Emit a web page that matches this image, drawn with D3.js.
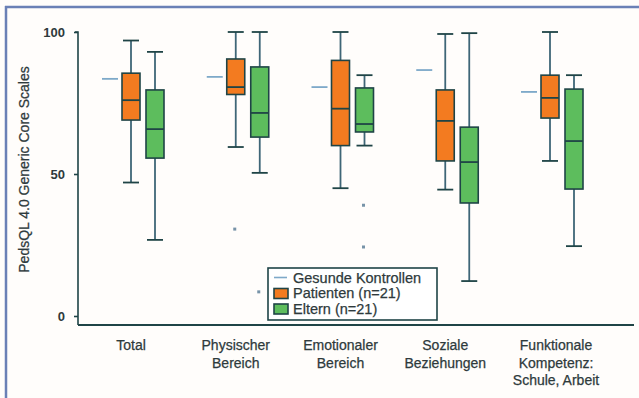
<!DOCTYPE html>
<html>
<head>
<meta charset="utf-8">
<script src="https://cdn.jsdelivr.net/npm/d3@7"></script>
<style>
  html, body { margin: 0; padding: 0; background: #ffffff; }
  svg { display: block; }
</style>
</head>
<body>
<script>
// categories along the x axis (one label per line)
const categories = [
    ["Total"],
    ["Physischer", "Bereich"],
    ["Emotionaler", "Bereich"],
    ["Soziale", "Beziehungen"],
    ["Funktionale", "Kompetenz:", "Schule, Arbeit"]
];

// box stats: [whiskerLow, q1, median, q3, whiskerHigh]
const patienten = [
    [47, 69, 76, 85.5, 97],
    [59.5, 78, 80.6, 90.5, 100],
    [45, 60, 73, 90, 100],
    [44.5, 54.6, 68.7, 79.6, 99.3],
    [54.6, 69.7, 76.8, 84.8, 100]
];
const eltern = [
    [26.8, 55.6, 65.8, 79.6, 93],
    [50.4, 63, 71.5, 87.7, 100],
    [60, 64.8, 67.6, 80.3, 84.8],
    [12.3, 39.8, 54.2, 66.5, 99.6],
    [24.6, 44.7, 61.6, 79.9, 84.8]
];
const outPatienten = [[], [30.6], [], [], []];
const outEltern = [[], [8.5], [39, 24.3], [], []];

// healthy control means
const kontrollen = [83.5, 84.2, 80.6, 86.6, 78.9];

const yTicks = [0, 50, 100];

const W = 639, H = 398;
const colors = {
    orange: "#f37b20",
    green: "#5dbd5d",
    outline: "#1f4446",
    whisker: "#3f6677",
    control: "#7ea9c9",
    text: "#2e3a3c",
    frame: "#6a80b6"
};

const svg = d3.select("body").append("svg")
    .attr("width", W)
    .attr("height", H)
    .style("font-family", "Liberation Sans, Arial, sans-serif");

svg.append("rect").attr("width", W).attr("height", H).attr("fill", "#fffdfb");

// frame: left and top
svg.append("line").attr("x1", 6).attr("x2", 6).attr("y1", 6).attr("y2", H)
    .attr("stroke", colors.frame).attr("stroke-width", 2.5);
svg.append("line").attr("x1", 5).attr("x2", W).attr("y1", 7).attr("y2", 7)
    .attr("stroke", colors.frame).attr("stroke-width", 2.5);

const y = d3.scaleLinear().domain([0, 100]).range([316, 32]);
const x = d3.scalePoint().domain(d3.range(categories.length)).range([131, 550]);

const axisLeftX = 78, axisBottomY = 325;

// y axis
const yAxis = svg.append("g")
    .attr("transform", `translate(${axisLeftX},0)`)
    .call(d3.axisLeft(y).tickValues(yTicks).tickSize(4).tickPadding(9));
yAxis.select(".domain").attr("d", `M-3,${y(100)}H0V${axisBottomY}`);
yAxis.selectAll("line, path").attr("stroke", colors.outline).attr("stroke-width", 1.6);
yAxis.selectAll("text")
    .attr("fill", colors.text)
    .style("font-size", "13px")
    .style("font-weight", "bold");

// x axis line
svg.append("line")
    .attr("x1", axisLeftX).attr("x2", 634)
    .attr("y1", axisBottomY).attr("y2", axisBottomY)
    .attr("stroke", colors.outline).attr("stroke-width", 1.8);

// y label
svg.append("text")
    .attr("transform", `translate(29,${(62 + 277) / 2}) rotate(-90)`)
    .attr("text-anchor", "middle")
    .attr("fill", colors.text)
    .attr("stroke", colors.text).attr("stroke-width", 0.25)
    .style("font-size", "14px")
    .text("PedsQL 4.0 Generic Core Scales");

// category labels
categories.forEach((lines, i) => {
    const t = svg.append("text")
        .attr("text-anchor", "middle")
        .attr("fill", colors.text)
        .attr("stroke", colors.text).attr("stroke-width", 0.25)
        .style("font-size", "14px");
    lines.forEach((s, j) => {
        t.append("tspan")
            .attr("x", x(i) + (i === 4 ? 6 : 0))
            .attr("y", 350 + j * 17.5)
            .text(s);
    });
});

function drawBoxes(data, outliers, offset, fill) {
    const bw = 18, cap = 8;
    data.forEach((d, i) => {
        const cx = x(i) + offset;
        const [lo, q1, med, q3, hi] = d;
        const g = svg.append("g");
        g.append("line").attr("x1", cx).attr("x2", cx).attr("y1", y(hi)).attr("y2", y(q3))
            .attr("stroke", colors.whisker).attr("stroke-width", 1.8);
        g.append("line").attr("x1", cx).attr("x2", cx).attr("y1", y(q1)).attr("y2", y(lo))
            .attr("stroke", colors.whisker).attr("stroke-width", 1.8);
        [hi, lo].forEach(v => {
            g.append("line").attr("x1", cx - cap).attr("x2", cx + cap).attr("y1", y(v)).attr("y2", y(v))
                .attr("stroke", colors.outline).attr("stroke-width", 1.8);
        });
        g.append("rect")
            .attr("x", cx - bw / 2).attr("y", y(q3))
            .attr("width", bw).attr("height", y(q1) - y(q3))
            .attr("fill", fill).attr("stroke", colors.outline).attr("stroke-width", 1.6);
        g.append("line").attr("x1", cx - bw / 2).attr("x2", cx + bw / 2).attr("y1", y(med)).attr("y2", y(med))
            .attr("stroke", colors.outline).attr("stroke-width", 1.8);
        outliers[i].forEach(v => {
            g.append("rect").attr("x", cx - 2.5).attr("y", y(v) - 1.5).attr("width", 3).attr("height", 3)
                .attr("fill", "#7793a8");
        });
    });
}

// control lines
kontrollen.forEach((v, i) => {
    svg.append("line")
        .attr("x1", x(i) - 29).attr("x2", x(i) - 13)
        .attr("y1", y(v)).attr("y2", y(v))
        .attr("stroke", colors.control).attr("stroke-width", 1.8);
});

drawBoxes(patienten, outPatienten, 0, colors.orange);
drawBoxes(eltern, outEltern, 24, colors.green);

// legend
const lg = svg.append("g").attr("transform", "translate(268,268)");
lg.append("rect").attr("width", 169).attr("height", 52)
    .attr("fill", "#ffffff").attr("stroke", colors.outline).attr("stroke-width", 1.6);
const items = [
    { label: "Gesunde Kontrollen", type: "line" },
    { label: "Patienten (n=21)", type: "box", fill: colors.orange },
    { label: "Eltern (n=21)", type: "box", fill: colors.green }
];
items.forEach((it, i) => {
    const cy = 9.5 + i * 15.5;
    if (it.type === "line") {
        lg.append("line").attr("x1", 6).attr("x2", 19).attr("y1", cy).attr("y2", cy)
            .attr("stroke", colors.control).attr("stroke-width", 1.6);
    } else {
        lg.append("rect").attr("x", 6).attr("y", cy - 4.5).attr("width", 14).attr("height", 10)
            .attr("fill", it.fill).attr("stroke", colors.outline).attr("stroke-width", 1.6);
    }
    lg.append("text").attr("x", 25).attr("y", cy + 5)
        .attr("fill", colors.text)
        .attr("stroke", colors.text).attr("stroke-width", 0.25)
        .style("font-size", "14.5px")
        .text(it.label);
});
</script>
</body>
</html>
